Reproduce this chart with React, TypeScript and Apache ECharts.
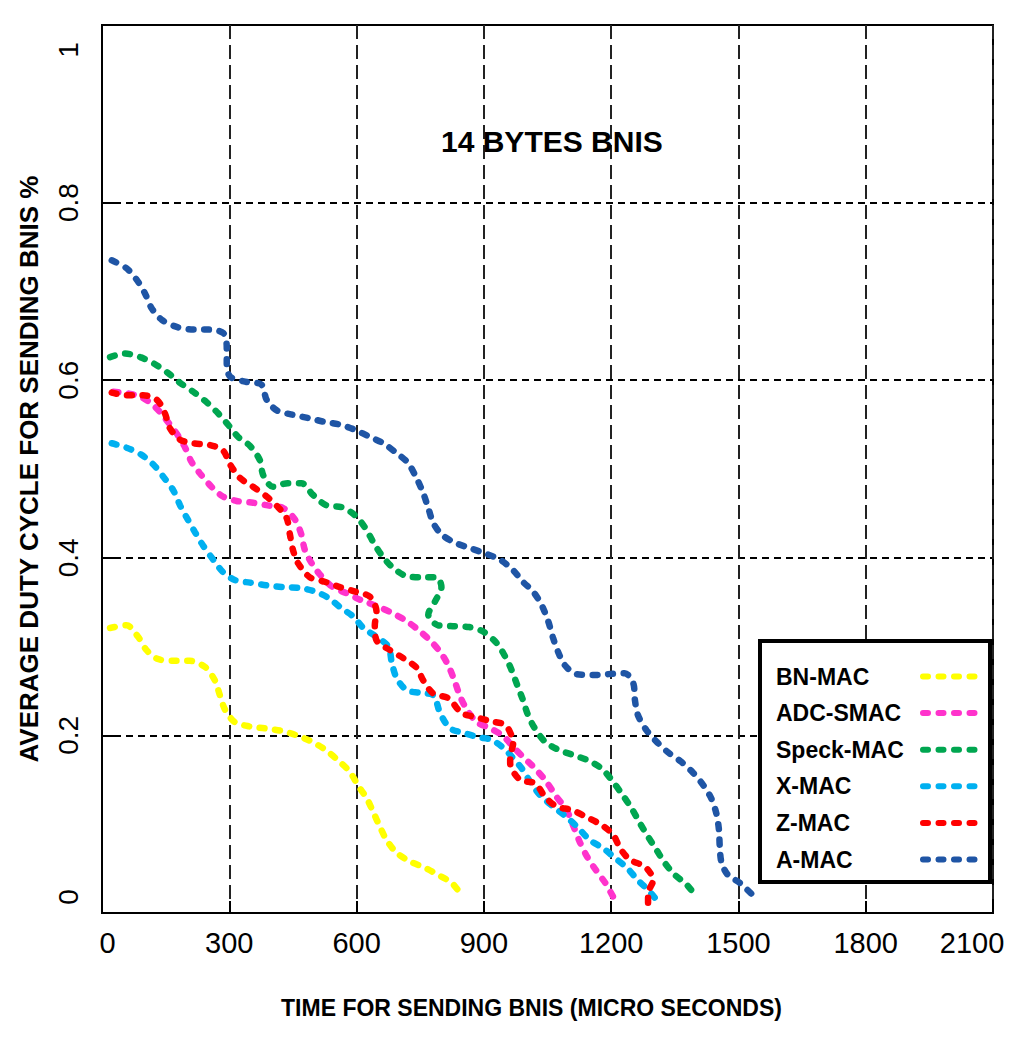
import React, { useEffect, useRef } from "react";
import * as echarts from "echarts";

const FONT = '"Liberation Sans", Arial, sans-serif';

const chartTitle = "14 BYTES BNIS";
const xAxisTitle = "TIME FOR SENDING BNIS (MICRO SECONDS)";
const yAxisTitle = "AVERAGE DUTY CYCLE FOR SENDING BNIS %";

const seriesNames = ["BN-MAC", "ADC-SMAC", "Speck-MAC", "X-MAC", "Z-MAC", "A-MAC"];
const seriesColors = ["#FFFF00", "#FF33CC", "#00A650", "#00B0F0", "#FF0000", "#1F55A5"];

const bnMac = [[19,0.321],[58,0.324],[85,0.311],[105,0.296],[132,0.286],[172,0.284],[207,0.284],[243,0.277],[266,0.262],[278,0.245],[290,0.229],[313,0.215],[349,0.210],[384,0.208],[424,0.205],[459,0.200],[494,0.193],[526,0.184],[556,0.172],[584,0.159],[603,0.144],[624,0.129],[639,0.114],[655,0.097],[671,0.082],[694,0.068],[726,0.058],[761,0.051],[792,0.043],[824,0.034],[848,0.020]];

const adcSmac = [[27,0.587],[62,0.585],[93,0.581],[125,0.570],[152,0.555],[176,0.540],[196,0.524],[211,0.508],[231,0.495],[258,0.480],[285,0.469],[317,0.464],[356,0.462],[391,0.459],[427,0.456],[455,0.443],[470,0.426],[478,0.409],[494,0.394],[514,0.381],[544,0.367],[577,0.360],[612,0.352],[651,0.345],[683,0.338],[714,0.330],[745,0.319],[773,0.307],[797,0.294],[816,0.279],[832,0.260],[844,0.244],[860,0.229],[883,0.215],[915,0.208],[946,0.199],[969,0.187],[992,0.176],[1016,0.165],[1044,0.150],[1071,0.131],[1095,0.116],[1110,0.099],[1127,0.079],[1145,0.062],[1166,0.047],[1186,0.034],[1205,0.018]];

const speckMac = [[19,0.626],[54,0.630],[90,0.626],[125,0.618],[156,0.608],[184,0.597],[215,0.587],[247,0.575],[273,0.563],[297,0.550],[321,0.536],[349,0.526],[372,0.510],[380,0.493],[403,0.480],[438,0.484],[470,0.484],[497,0.471],[529,0.459],[565,0.457],[596,0.448],[620,0.434],[639,0.418],[659,0.403],[683,0.390],[714,0.380],[749,0.378],[789,0.378],[800,0.367],[785,0.351],[769,0.336],[792,0.324],[827,0.323],[865,0.322],[898,0.317],[930,0.304],[950,0.289],[965,0.274],[980,0.255],[992,0.240],[1004,0.223],[1020,0.208],[1044,0.193],[1075,0.184],[1110,0.178],[1145,0.172],[1177,0.163],[1201,0.150],[1224,0.135],[1248,0.118],[1268,0.101],[1287,0.086],[1307,0.071],[1327,0.056],[1350,0.043],[1378,0.032],[1401,0.018]];

const xMac = [[23,0.529],[58,0.524],[93,0.516],[121,0.505],[145,0.491],[168,0.476],[184,0.459],[200,0.445],[219,0.429],[238,0.414],[262,0.398],[285,0.384],[313,0.375],[349,0.372],[388,0.369],[427,0.367],[467,0.366],[502,0.362],[533,0.355],[565,0.343],[592,0.334],[616,0.321],[647,0.311],[675,0.300],[683,0.282],[694,0.265],[718,0.251],[749,0.248],[781,0.245],[797,0.225],[820,0.208],[851,0.203],[886,0.198],[918,0.195],[946,0.186],[966,0.176],[989,0.163],[1009,0.148],[1032,0.133],[1063,0.120],[1095,0.108],[1122,0.096],[1150,0.082],[1181,0.073],[1209,0.062],[1237,0.051],[1263,0.037],[1287,0.026],[1310,0.013]];

const zMac = [[23,0.586],[58,0.583],[97,0.583],[129,0.578],[148,0.563],[160,0.546],[184,0.533],[215,0.529],[254,0.527],[285,0.521],[302,0.505],[325,0.490],[356,0.480],[388,0.469],[415,0.457],[435,0.445],[443,0.426],[450,0.409],[462,0.394],[490,0.378],[525,0.373],[561,0.367],[597,0.362],[632,0.356],[647,0.339],[643,0.324],[647,0.307],[679,0.296],[710,0.287],[742,0.276],[757,0.262],[781,0.247],[816,0.242],[848,0.225],[879,0.221],[915,0.216],[950,0.212],[966,0.199],[969,0.191],[962,0.176],[962,0.169],[985,0.150],[1021,0.146],[1044,0.131],[1071,0.120],[1107,0.116],[1142,0.108],[1178,0.099],[1205,0.088],[1221,0.073],[1244,0.060],[1280,0.052],[1299,0.037],[1287,0.022],[1287,0.003]];

const aMac = [[23,0.735],[58,0.726],[82,0.713],[101,0.698],[117,0.681],[141,0.668],[176,0.660],[215,0.657],[250,0.657],[286,0.653],[294,0.637],[294,0.619],[302,0.604],[341,0.598],[376,0.595],[388,0.578],[412,0.566],[450,0.561],[490,0.557],[525,0.553],[561,0.550],[597,0.544],[632,0.536],[663,0.529],[694,0.518],[721,0.507],[741,0.490],[757,0.473],[769,0.456],[781,0.439],[801,0.426],[832,0.417],[867,0.411],[902,0.405],[938,0.398],[969,0.386],[992,0.373],[1016,0.362],[1036,0.347],[1052,0.328],[1063,0.310],[1075,0.294],[1091,0.279],[1118,0.269],[1158,0.268],[1193,0.269],[1232,0.270],[1252,0.259],[1256,0.240],[1263,0.223],[1283,0.206],[1307,0.193],[1334,0.181],[1366,0.170],[1393,0.158],[1417,0.144],[1436,0.129],[1448,0.112],[1454,0.094],[1456,0.075],[1460,0.057],[1475,0.043],[1503,0.034],[1534,0.020]];

const seriesData = [bnMac, adcSmac, speckMac, xMac, zMac, aMac];

const xMin = 0;
const xMax = 2100;
const xStep = 300;
const yMin = 0;
const yMax = 1;
const yStep = 0.2;

const DASH = [5, 10.5];

export default function App() {
  const ref = useRef<HTMLDivElement>(null);
  useEffect(() => {
    document.body.style.margin = "0";
    const chart = echarts.init(ref.current!, null, { renderer: "svg" });
    const xl = { fontFamily: FONT, fontSize: 29, color: "#000" };
    const yl = { fontFamily: FONT, fontSize: 28, color: "#000" };
    const option: any = {
      animation: false,
      backgroundColor: "#ffffff",
      title: {
        text: chartTitle,
        left: 436,
        top: 121,
        textStyle: { fontFamily: FONT, fontSize: 30, fontWeight: "bold", color: "#000" },
      },
      grid: {
        left: 102,
        top: 25,
        right: 31,
        bottom: 128,
        show: true,
        borderColor: "#000",
        borderWidth: 2,
        backgroundColor: "transparent",
      },
      legend: {
        orient: "vertical",
        left: 760,
        top: 641,
        align: "right",
        padding: [24, 5, 11, 16],
        itemGap: 13.6,
        itemWidth: 59,
        itemHeight: 14,
        borderColor: "#000",
        borderWidth: 4,
        backgroundColor: "#fff",
        data: seriesNames,
        formatter: "{n|{name}}",
        itemStyle: { opacity: 0 },
        lineStyle: { width: 6, type: DASH, cap: "round" },
        textStyle: {
          rich: {
            n: { width: 142, align: "left", fontFamily: FONT, fontSize: 23, fontWeight: "bold", color: "#000", lineHeight: 24 },
          },
        },
      },
      xAxis: {
        type: "value",
        min: xMin,
        max: xMax,
        interval: xStep,
        name: xAxisTitle,
        nameLocation: "middle",
        nameGap: 83,
        nameTextStyle: { fontFamily: FONT, fontSize: 23, fontWeight: "bold", color: "#000", padding: [0, 32, 0, 0] },
        axisLine: { show: true, lineStyle: { color: "#000", width: 2 } },
        axisTick: { show: true, inside: true, length: 12, lineStyle: { color: "#000", width: 2 } },
        axisLabel: {
          ...xl,
          margin: 15,
          formatter: (v: number) =>
            v === xMin ? `{s|${v}}` : v === xMax ? `{e|${v}}` : `{m|${v}}`,
          rich: {
            s: { ...xl, padding: [0, 0, 0, 11] },
            e: { ...xl, padding: [0, 42, 0, 0] },
            m: { ...xl },
          },
        },
        splitLine: { show: true, lineStyle: { color: "#222", width: 2, type: [14, 6] } },
      },
      yAxis: {
        type: "value",
        min: yMin,
        max: yMax,
        interval: yStep,
        name: yAxisTitle,
        nameLocation: "middle",
        nameGap: 60,
        nameTextStyle: { fontFamily: FONT, fontSize: 26, fontWeight: "bold", color: "#000" },
        axisLine: { show: true, lineStyle: { color: "#000", width: 2 } },
        axisTick: { show: true, inside: true, length: 12, lineStyle: { color: "#000", width: 2 } },
        axisLabel: {
          ...yl,
          rotate: 90,
          margin: 20,
          formatter: (v: number) =>
            v === yMin ? `{s|${v}}` : v === yMax ? `{e|${v}}` : `{m|${v}}`,
          rich: {
            s: { ...yl, padding: [0, 0, 0, 32] },
            e: { ...yl, padding: [0, 50, 0, 0] },
            m: { ...yl },
          },
        },
        splitLine: { show: true, lineStyle: { color: "#000", width: 2, type: [7, 5] } },
      },
      series: seriesNames.map((name, i) => ({
        name,
        type: "line",
        data: seriesData[i],
        smooth: 0.3,
        symbol: "none",
        color: seriesColors[i],
        lineStyle: { color: seriesColors[i], width: 6.5, type: DASH, cap: "round" },
      })),
    };
    chart.setOption(option);
    return () => chart.dispose();
  }, []);
  return <div ref={ref} style={{ width: 1024, height: 1041 }} />;
}
